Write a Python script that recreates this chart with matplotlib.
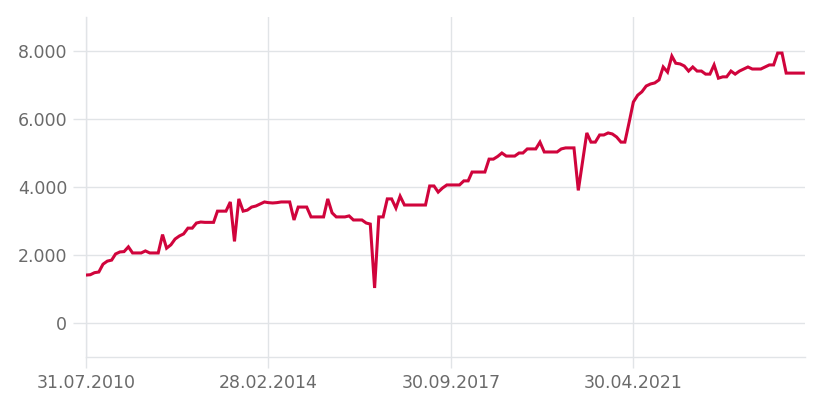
import matplotlib
matplotlib.use("Agg")
import matplotlib.pyplot as plt
import matplotlib.dates as mdates
from matplotlib.ticker import FuncFormatter
import pandas as pd

# month offsets from 31.07.2010 (month-end observations) and values
months = list(range(0, 117)) + list(range(118, 170))
values = [
    1410, 1420, 1480, 1500, 1730, 1820, 1850, 2030, 2090, 2100,
    2240, 2060, 2060, 2060, 2120, 2060, 2060, 2060, 2600, 2200,
    2300, 2470, 2560, 2620, 2790, 2790, 2940, 2970, 2960, 2960,
    2960, 3290, 3290, 3290, 3560, 2400, 3650, 3290, 3320, 3410,
    3440, 3500, 3560, 3540, 3530, 3540, 3560, 3560, 3560, 3030,
    3410, 3410, 3410, 3120, 3120, 3120, 3120, 3650, 3240, 3120,
    3120, 3120, 3150, 3030, 3030, 3030, 2940, 2910, 1030, 3120,
    3120, 3650, 3650, 3380, 3730, 3470, 3470, 3470, 3470, 3470,
    3470, 4030, 4030, 3850, 3970, 4060, 4060, 4060, 4060, 4180,
    4180, 4440, 4440, 4440, 4440, 4820, 4820, 4900, 5000, 4910,
    4910, 4910, 5000, 5000, 5120, 5120, 5120, 5320, 5030, 5030,
    5030, 5030, 5120, 5150, 5150, 5150, 3900,
    5590, 5320, 5320, 5530, 5530, 5590, 5560, 5470, 5320, 5320,
    5910, 6500, 6700, 6800, 6970, 7030, 7060, 7150, 7530, 7380,
    7850, 7640, 7620, 7560, 7410, 7530, 7410, 7410, 7320, 7320,
    7590, 7200, 7240, 7240, 7410, 7320, 7410, 7470, 7530, 7470,
    7470, 7470, 7530, 7590, 7590, 7940, 7940, 7350, 7350, 7350,
    7350, 7350,
]
tick_labels = ["31.07.2010", "28.02.2014", "30.09.2017", "30.04.2021"]
y_ticks = [0, 2000, 4000, 6000, 8000]

start = pd.Timestamp("2010-07-31")
dates = [start + pd.offsets.MonthEnd(m) for m in months]
tick_dates = [pd.Timestamp(pd.to_datetime(t, format="%d.%m.%Y")) for t in tick_labels]

grid_col = "#e1e4e7"
line_col = "#d0043c"
text_col = "#6a6a6a"

fig = plt.figure(figsize=(8.17, 4.08), dpi=100)
ax = fig.add_axes([86 / 817, 1 - 357 / 408, 719 / 817, 340 / 408])

ax.plot(dates, values, color=line_col, linewidth=2.2, solid_joinstyle="miter", zorder=3)

ax.set_ylim(-1000, 9000)
ax.set_xlim(start, dates[-1] + pd.Timedelta(days=12))
ax.set_yticks(y_ticks)
ax.yaxis.set_major_formatter(FuncFormatter(lambda v, p: f"{int(v):,}".replace(",", ".")))
ax.set_xticks(tick_dates)
ax.set_xticklabels(tick_labels)

ax.grid(True, color=grid_col, linewidth=1.0)
for s in ["top", "right"]:
    ax.spines[s].set_visible(False)
for s in ["left", "bottom"]:
    ax.spines[s].set_color(grid_col)
    ax.spines[s].set_linewidth(1.0)

ax.tick_params(axis="y", length=9.5, width=1.0, color=grid_col, pad=4,
               labelsize=12.5, labelcolor=text_col)
ax.tick_params(axis="x", length=8, width=1.0, color=grid_col, pad=4,
               labelsize=12.5, labelcolor=text_col)

fig.savefig("out.png", dpi=100)
